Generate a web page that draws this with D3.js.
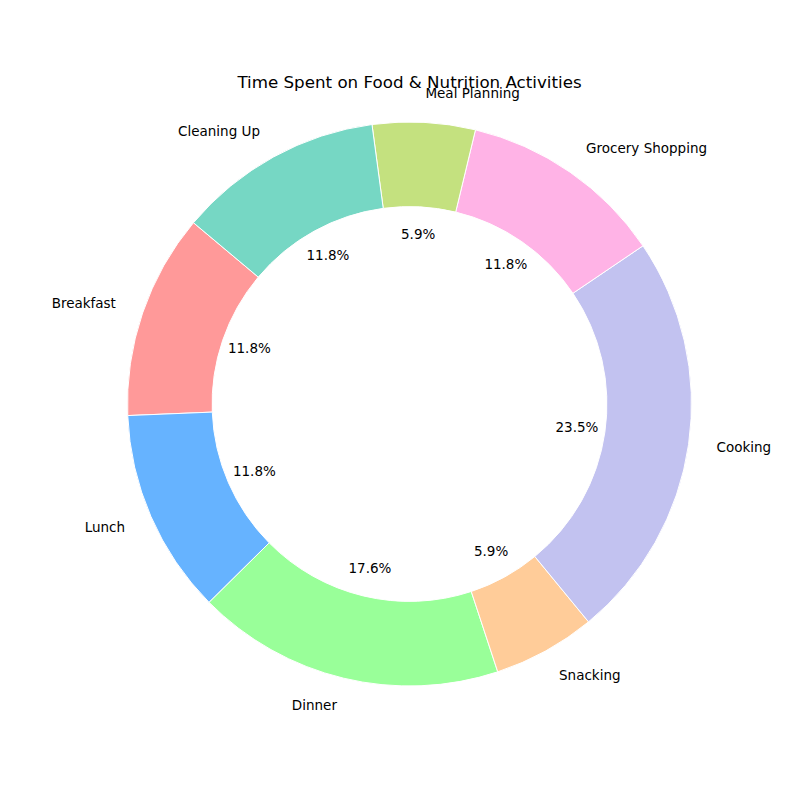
<!DOCTYPE html>
<html>
<head>
<meta charset="utf-8">
<script src="https://cdn.jsdelivr.net/npm/d3@7"></script>
<style>
  body { margin: 0; background: #fff; }
  text { font-family: "DejaVu Sans", sans-serif; }
</style>
</head>
<body>
<div id="chart"></div>
<script>
const activities = ["Breakfast", "Lunch", "Dinner", "Snacking", "Cooking", "Grocery Shopping", "Meal Planning", "Cleaning Up"];
const hours = [2, 2, 3, 1, 4, 2, 1, 2];
const colors = ["#ff9999", "#66b3ff", "#99ff99", "#ffcc99", "#c2c2f0", "#ffb3e6", "#c4e17f", "#76d7c4"];

const W = 800, H = 800, cx = 409.5, cy = 404, R = 282;
const svg = d3.select("#chart").append("svg").attr("width", W).attr("height", H);

svg.append("text")
    .attr("x", cx).attr("y", 83)
    .attr("text-anchor", "middle").attr("dominant-baseline", "middle")
    .style("font-size", "16.7px")
    .text("Time Spent on Food & Nutrition Activities");

// matplotlib style: startangle 140, counterclockwise
const start = (90 - 140) * Math.PI / 180;
const pie = d3.pie().sort(null).startAngle(start).endAngle(start - 2 * Math.PI);
const arcs = pie(hours);
const total = d3.sum(hours);

const g = svg.append("g").attr("transform", `translate(${cx},${cy})`);
const arc = d3.arc().innerRadius(R * 0.7).outerRadius(R);

g.selectAll("path").data(arcs).join("path")
    .attr("d", arc)
    .attr("fill", (d, i) => colors[i])
    .attr("stroke", "#fff").attr("stroke-width", 1);

function pos(d, r) {
    const a = (d.startAngle + d.endAngle) / 2;
    return [r * Math.sin(a), -r * Math.cos(a)];
}

g.selectAll(".lab").data(arcs).join("text")
    .attr("class", "lab")
    .attr("x", d => pos(d, R * 1.1)[0])
    .attr("y", d => pos(d, R * 1.1)[1])
    .attr("text-anchor", d => pos(d, 1)[0] > 0 ? "start" : "end")
    .attr("dominant-baseline", "middle")
    .style("font-size", "13.5px")
    .text((d, i) => activities[i]);

g.selectAll(".pct").data(arcs).join("text")
    .attr("class", "pct")
    .attr("x", d => pos(d, R * 0.6)[0])
    .attr("y", d => pos(d, R * 0.6)[1])
    .attr("text-anchor", "middle")
    .attr("dominant-baseline", "middle")
    .style("font-size", "13.5px")
    .text(d => (d.value / total * 100).toFixed(1) + "%");
</script>
</body>
</html>
